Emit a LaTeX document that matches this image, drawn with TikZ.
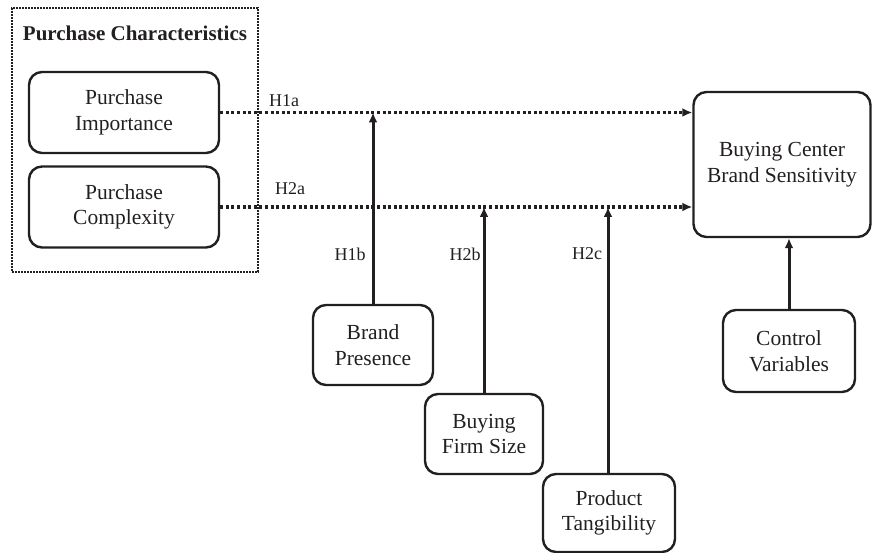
\documentclass[tikz,border=0pt]{standalone}
\usepackage{fontspec}
\setmainfont{Liberation Serif}
\usetikzlibrary{arrows.meta}
\definecolor{ink}{HTML}{231F20}
\begin{document}
\begin{tikzpicture}[x=1pt,y=-1pt,
  box/.style={draw=ink,line width=2.4pt,rounded corners=13pt,align=center,text=ink,
    font=\fontsize{21.5}{25.5}\selectfont,inner sep=0pt},
  lbl/.style={text=ink,font=\fontsize{18}{20}\selectfont,inner sep=0pt},
  solidarrow/.style={draw=ink,line width=3pt,-{Latex[length=10pt,width=9pt]}},
  dotarrow/.style={draw=ink,line width=3.2pt,dash pattern=on 3pt off 2.6pt,-{Latex[length=10pt,width=9pt]}}]
\useasboundingbox (0,0) rectangle (872,553);
% outer dotted group
\node[draw=ink,line width=1.6pt,dash pattern=on 1.6pt off 1.4pt,minimum width=246pt,minimum height=264pt,inner sep=0pt] (grp) at (135,140) {};
\node[text=ink,font=\bfseries\fontsize{21}{25}\selectfont,inner sep=0pt] (title) at (135,33) {Purchase Characteristics};
\node[box,minimum width=190pt,minimum height=81pt] (pi) at (124,112.5) {Purchase\\Importance};
\node[box,minimum width=190pt,minimum height=81pt] (pc) at (124,207) {Purchase\\Complexity};
\node[box,minimum width=177pt,minimum height=145pt] (bc) at (782,164.5) {Buying Center\\Brand Sensitivity};
\node[box,minimum width=132pt,minimum height=82pt] (cv) at (789,351) {Control\\Variables};
\node[box,minimum width=120pt,minimum height=80pt] (bp) at (373,345) {Brand\\Presence};
\node[box,minimum width=118pt,minimum height=80pt] (fs) at (484,434) {Buying\\Firm Size};
\node[box,minimum width=132pt,minimum height=78pt] (pt) at (609,513) {Product\\Tangibility};
% dotted arrows
\coordinate (e1) at (pi.east -| bc.west);
\coordinate (e2) at (pc.east -| bc.west);
\draw[dotarrow] (pi.east) -- (e1);
\draw[dotarrow] (pc.east) -- (e2);
% solid arrows
\coordinate (m1) at (bp.north |- pi.east);
\coordinate (m2) at (fs.north |- pc.east);
\coordinate (t3) at (608,0);
\coordinate (m3) at (t3 |- pc.east);
\coordinate (b3) at (t3 |- pt.north);
\draw[solidarrow] (bp.north) -- (m1);
\draw[solidarrow] (fs.north) -- (m2);
\draw[solidarrow] (b3) -- (m3);
\draw[solidarrow] (cv.north) -- (cv.north |- bc.south);
% labels
\node[lbl] (h1a) at (284,101) {H1a};
\node[lbl] (h2a) at (290,189) {H2a};
\node[lbl] (h1b) at (350,254) {H1b};
\node[lbl] (h2b) at (465,254) {H2b};
\node[lbl] (h2c) at (587,254) {H2c};
\end{tikzpicture}
\end{document}
